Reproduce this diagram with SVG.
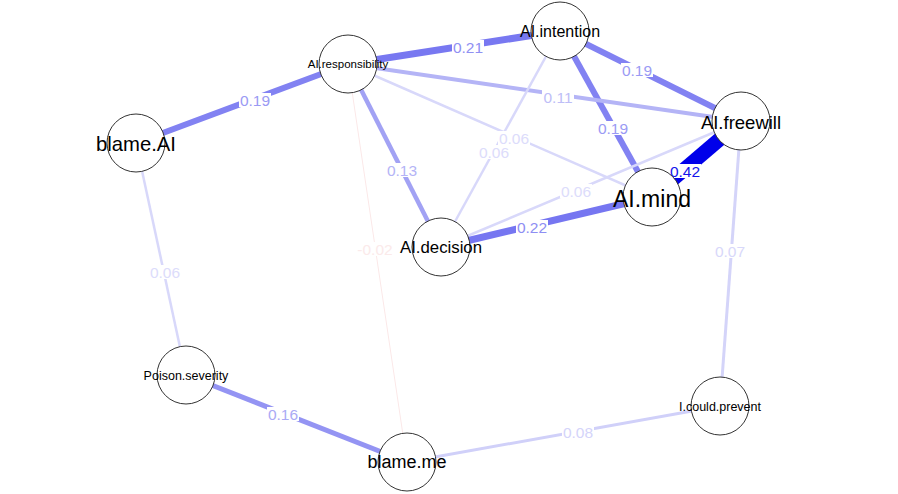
<svg xmlns="http://www.w3.org/2000/svg" width="898" height="494" viewBox="0 0 898 494">
<style>
.e{fill:none;stroke-linecap:butt}
.lb{fill:#ffffff}
.lt{font-family:"Liberation Sans",Arial,sans-serif;font-size:15.5px;text-anchor:middle}
.n circle{fill:#ffffff;stroke:#333333;stroke-width:1}
.n text{font-family:"Liberation Sans",Arial,sans-serif;text-anchor:middle;fill:#000000}
</style>
<rect width="898" height="494" fill="#ffffff"/>
<g id="connectors">
<line class="e" x1="136" y1="143" x2="348" y2="64" stroke="#8282f2" stroke-width="6"/>
<line class="e" x1="348" y1="64" x2="560" y2="31" stroke="#7878f1" stroke-width="7"/>
<line class="e" x1="560" y1="31" x2="741" y2="121" stroke="#8282f2" stroke-width="6"/>
<line class="e" x1="560" y1="31" x2="652" y2="197" stroke="#8282f2" stroke-width="6"/>
<line class="e" x1="741" y1="121" x2="652" y2="197" stroke="#0000ea" stroke-width="14.5"/>
<line class="e" x1="348" y1="64" x2="741" y2="121" stroke="#b4b4f6" stroke-width="4"/>
<line class="e" x1="348" y1="64" x2="441" y2="247" stroke="#a2a2f4" stroke-width="4.5"/>
<line class="e" x1="348" y1="64" x2="652" y2="197" stroke="#d8d8fa" stroke-width="2.5"/>
<line class="e" x1="560" y1="31" x2="441" y2="247" stroke="#d8d8fa" stroke-width="2.5"/>
<line class="e" x1="741" y1="121" x2="441" y2="247" stroke="#d8d8fa" stroke-width="2.5"/>
<line class="e" x1="441" y1="247" x2="652" y2="197" stroke="#7676f1" stroke-width="7"/>
<line class="e" x1="348" y1="64" x2="407" y2="462" stroke="#fbe8e8" stroke-width="1"/>
<line class="e" x1="136" y1="143" x2="186" y2="375" stroke="#d8d8fa" stroke-width="2.5"/>
<line class="e" x1="186" y1="375" x2="407" y2="462" stroke="#9494f3" stroke-width="5"/>
<line class="e" x1="407" y1="462" x2="720" y2="406" stroke="#d0d0f9" stroke-width="3"/>
<line class="e" x1="741" y1="121" x2="720" y2="406" stroke="#d4d4f9" stroke-width="3"/>
<rect class="lb" x="239" y="93" width="32" height="14"/>
<text class="lt" x="255" y="105.5" fill="#9a9af4">0.19</text>
<rect class="lb" x="452" y="40" width="32" height="14"/>
<text class="lt" x="468" y="52.5" fill="#9090f3">0.21</text>
<rect class="lb" x="621" y="63" width="32" height="14"/>
<text class="lt" x="637" y="75.5" fill="#9a9af4">0.19</text>
<rect class="lb" x="597" y="121" width="32" height="14"/>
<text class="lt" x="613" y="133.5" fill="#9a9af4">0.19</text>
<rect class="lb" x="669" y="164" width="32" height="14"/>
<text class="lt" x="685" y="176.5" fill="#1414ec">0.42</text>
<rect class="lb" x="542" y="90" width="32" height="14"/>
<text class="lt" x="558" y="102.5" fill="#bebef7">0.11</text>
<rect class="lb" x="386" y="163" width="32" height="14"/>
<text class="lt" x="402" y="175.5" fill="#b4b4f6">0.13</text>
<rect class="lb" x="498" y="131" width="32" height="14"/>
<text class="lt" x="514" y="143.5" fill="#dcdcfb">0.06</text>
<rect class="lb" x="478" y="145" width="32" height="14"/>
<text class="lt" x="494" y="157.5" fill="#dcdcfb">0.06</text>
<rect class="lb" x="560" y="184" width="32" height="14"/>
<text class="lt" x="576" y="196.5" fill="#dcdcfb">0.06</text>
<rect class="lb" x="516" y="220" width="32" height="14"/>
<text class="lt" x="532" y="232.5" fill="#8e8ef3">0.22</text>
<rect class="lb" x="356" y="242" width="38" height="14"/>
<text class="lt" x="375" y="254.5" fill="#fbeaea">-0.02</text>
<rect class="lb" x="149" y="265" width="32" height="14"/>
<text class="lt" x="165" y="277.5" fill="#dcdcfb">0.06</text>
<rect class="lb" x="267" y="407" width="32" height="14"/>
<text class="lt" x="283" y="419.5" fill="#aaaaf5">0.16</text>
<rect class="lb" x="562" y="425" width="32" height="14"/>
<text class="lt" x="578" y="437.5" fill="#d4d4fa">0.08</text>
<rect class="lb" x="714" y="244" width="32" height="14"/>
<text class="lt" x="730" y="256.5" fill="#d8d8fa">0.07</text>
</g>
<g id="node-AI.responsibility" class="n"><circle cx="348" cy="64" r="29"/><text x="348" y="68" font-size="11.5">AI.responsibility</text></g>
<g id="node-AI.intention" class="n"><circle cx="560" cy="31" r="29"/><text x="560" y="36.5" font-size="16">AI.intention</text></g>
<g id="node-AI.freewill" class="n"><circle cx="741" cy="121" r="29"/><text x="741" y="129" font-size="18.5">AI.freewill</text></g>
<g id="node-AI.mind" class="n"><circle cx="652" cy="197" r="29"/><text x="652" y="207" font-size="23">AI.mind</text></g>
<g id="node-AI.decision" class="n"><circle cx="441" cy="247" r="29"/><text x="441" y="253" font-size="16.8">AI.decision</text></g>
<g id="node-blame.AI" class="n"><circle cx="136" cy="143" r="29"/><text x="136" y="151" font-size="20.3">blame.AI</text></g>
<g id="node-Poison.severity" class="n"><circle cx="186" cy="375" r="29"/><text x="186" y="379.5" font-size="12.5">Poison.severity</text></g>
<g id="node-blame.me" class="n"><circle cx="407" cy="462" r="29"/><text x="407" y="468" font-size="18">blame.me</text></g>
<g id="node-I.could.prevent" class="n"><circle cx="720" cy="406" r="29"/><text x="720" y="410.5" font-size="12.5">I.could.prevent</text></g>
</svg>
